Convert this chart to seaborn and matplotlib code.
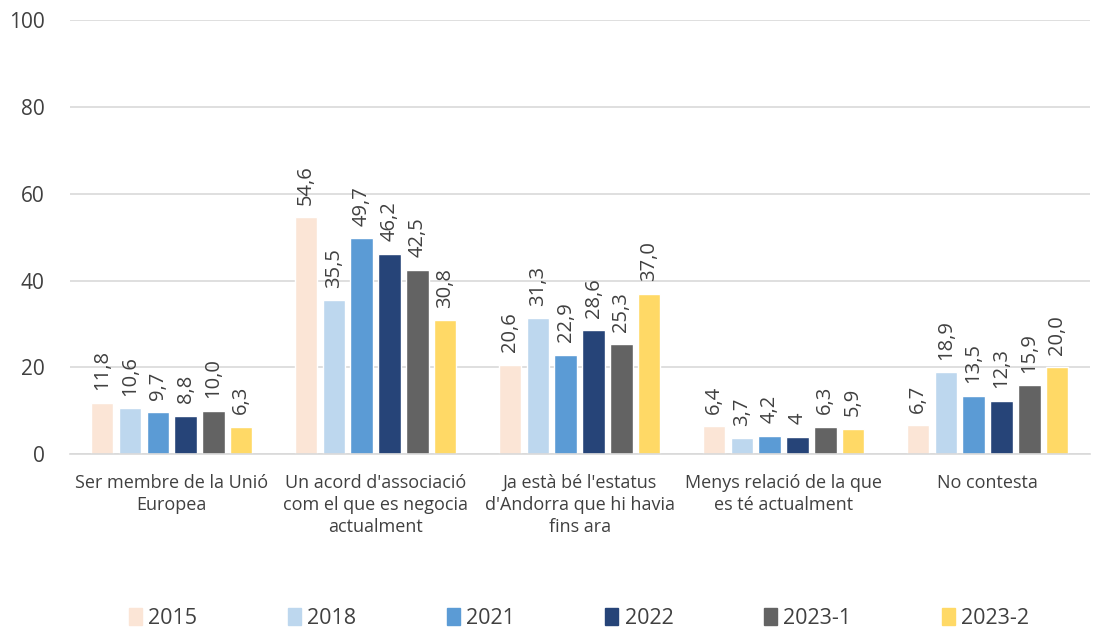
import numpy as np
import matplotlib
matplotlib.use("Agg")
import matplotlib.pyplot as plt
import seaborn as sns
import pandas as pd

categories = ["Ser membre de la Unió\nEuropea",
              "Un acord d'associació\ncom el que es negocia\nactualment",
              "Ja està bé l'estatus\nd'Andorra que hi havia\nfins ara",
              "Menys relació de la que\nes té actualment",
              "No contesta"]
years = ["2015", "2018", "2021", "2022", "2023-1", "2023-2"]
v2015 = [11.8, 54.6, 20.6, 6.4, 6.7]
v2018 = [10.6, 35.5, 31.3, 3.7, 18.9]
v2021 = [9.7, 49.7, 22.9, 4.2, 13.5]
v2022 = [8.8, 46.2, 28.6, 4.0, 12.3]
v2023_1 = [10.0, 42.5, 25.3, 6.3, 15.9]
v2023_2 = [6.3, 30.8, 37.0, 5.9, 20.0]
colors = ["#FBE5D6", "#BDD7EE", "#5B9BD5", "#264478", "#636363", "#FFD966"]

series = [v2015, v2018, v2021, v2022, v2023_1, v2023_2]
rows = []
for y, vals in zip(years, series):
    for c, v in zip(categories, vals):
        rows.append((c, y, v))
df = pd.DataFrame(rows, columns=["cat", "year", "value"])

sns.set_style("white")
plt.rcParams['font.family'] = ['Open Sans', 'DejaVu Sans']
txt = "#404040"

fig = plt.figure(figsize=(11.05, 6.29), dpi=100)
ax = fig.add_axes([0.063, 0.278, 0.923, 0.69])
sns.barplot(data=df, x="cat", y="value", hue="year", palette=colors,
            saturation=1, width=0.82, gap=0.2, ax=ax, legend=False)

def fmt(v, y, c):
    # the source prints the 2022 "Menys relació" value without decimals
    if y == "2022" and c == 3:
        return "4"
    return f"{v:.1f}".replace(".", ",")

for y, cont in zip(years, ax.containers):
    vals = df[df.year == y]["value"].tolist()
    ax.bar_label(cont, labels=[fmt(v, y, i) for i, v in enumerate(vals)],
                 rotation=90, padding=9, fontsize=14.5, color=txt)

ax.set_ylim(0, 100)
ax.set_yticks(range(0, 101, 20))
ax.set_xlim(-0.5, 4.5)
ax.yaxis.grid(True, color="#D9D9D9", linewidth=1.2)
ax.set_axisbelow(True)
for s in ["top", "right", "left"]:
    ax.spines[s].set_visible(False)
ax.spines["bottom"].set_color("#D9D9D9")
ax.spines["bottom"].set_linewidth(1.2)
ax.tick_params(axis="y", length=0, colors=txt, labelsize=15, pad=18)
ax.tick_params(axis="x", length=0, colors=txt, labelsize=13, pad=14)
for lab in ax.get_xticklabels():
    lab.set_linespacing(1.3)
ax.set_xlabel("")
ax.set_ylabel("")

handles = [plt.Rectangle((0, 0), 1, 1, color=c) for c in colors]
fig.legend(handles, years, loc="center", bbox_to_anchor=(0.524, 0.017),
           ncol=6, frameon=False, fontsize=15.5, handlelength=0.6,
           handleheight=0.8, handletextpad=0.3, columnspacing=4.2,
           labelcolor=txt)

fig.savefig("out.png", dpi=100)
